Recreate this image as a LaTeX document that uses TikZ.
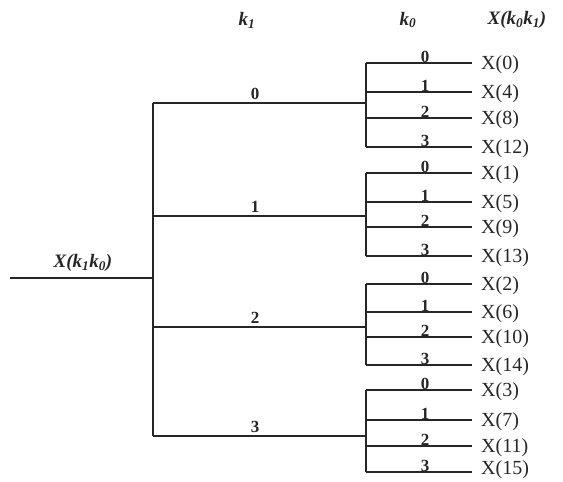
\documentclass[tikz,border=0pt]{standalone}
\usepackage{fontspec}
\setmainfont{Liberation Serif}
\begin{document}
\begin{tikzpicture}[x=1pt,y=-1pt,
  wire/.style={line width=2pt,draw=black!85},
  outlab/.style={anchor=west,inner sep=0pt,font=\fontsize{20}{20}\selectfont,text=black!85},
  digit/.style={anchor=south,inner sep=0.5pt,font=\fontsize{17}{17}\selectfont\bfseries,text=black!85},
  head/.style={inner sep=0pt,font=\fontsize{19}{19}\selectfont\bfseries\itshape,text=black!85}]
\useasboundingbox (0,0) rectangle (563,482);
% input
\coordinate (in) at (10,278);
\coordinate (inj) at (153,278);
\draw[wire] (in) -- (inj);
\node[head,anchor=south] (inlab) at (83,272) {X(k\textsubscript{1}k\textsubscript{0})};
% headers
\node[head] (hk1) at (247,20) {k\textsubscript{1}};
\node[head] (hk0) at (408,20) {k\textsubscript{0}};
\node[head] (hX) at (517,20) {X(k\textsubscript{0}k\textsubscript{1})};
% main vertical
\coordinate (mtop) at (153,103);
\coordinate (mbot) at (153,436);
\draw[wire] (mtop) -- (mbot);
% branches
\foreach \g/\by/\ya/\yb/\yc/\yd in {0/103/63/92/118/147,1/216/173/202/227/256,2/327/284/312/337/365,3/436/390/420/446/472}{
  \coordinate (b\g) at (153,\by);
  \coordinate (s\g) at (366,\by);
  \draw[wire] (b\g) -- (s\g);
  \node[digit,inner sep=3pt] (bl\g) at (255,\by) {\g};
  \coordinate (v\g t) at (366,\ya);
  \coordinate (v\g b) at (366,\yd);
  \draw[wire] (v\g t) -- (v\g b);
  \foreach \j/\yy in {0/\ya,1/\yb,2/\yc,3/\yd}{
    \pgfmathtruncatemacro{\n}{\g+4*\j}
    \coordinate (l\g\j) at (366,\yy);
    \coordinate (r\g\j) at (472,\yy);
    \draw[wire] (l\g\j) -- (r\g\j);
    \node[digit] (d\g\j) at (425,\yy) {\j};
    \node[outlab] (x\n) at (481,{min(\yy+2,470)}) {X(\n)};
  }
}
\end{tikzpicture}
\end{document}
